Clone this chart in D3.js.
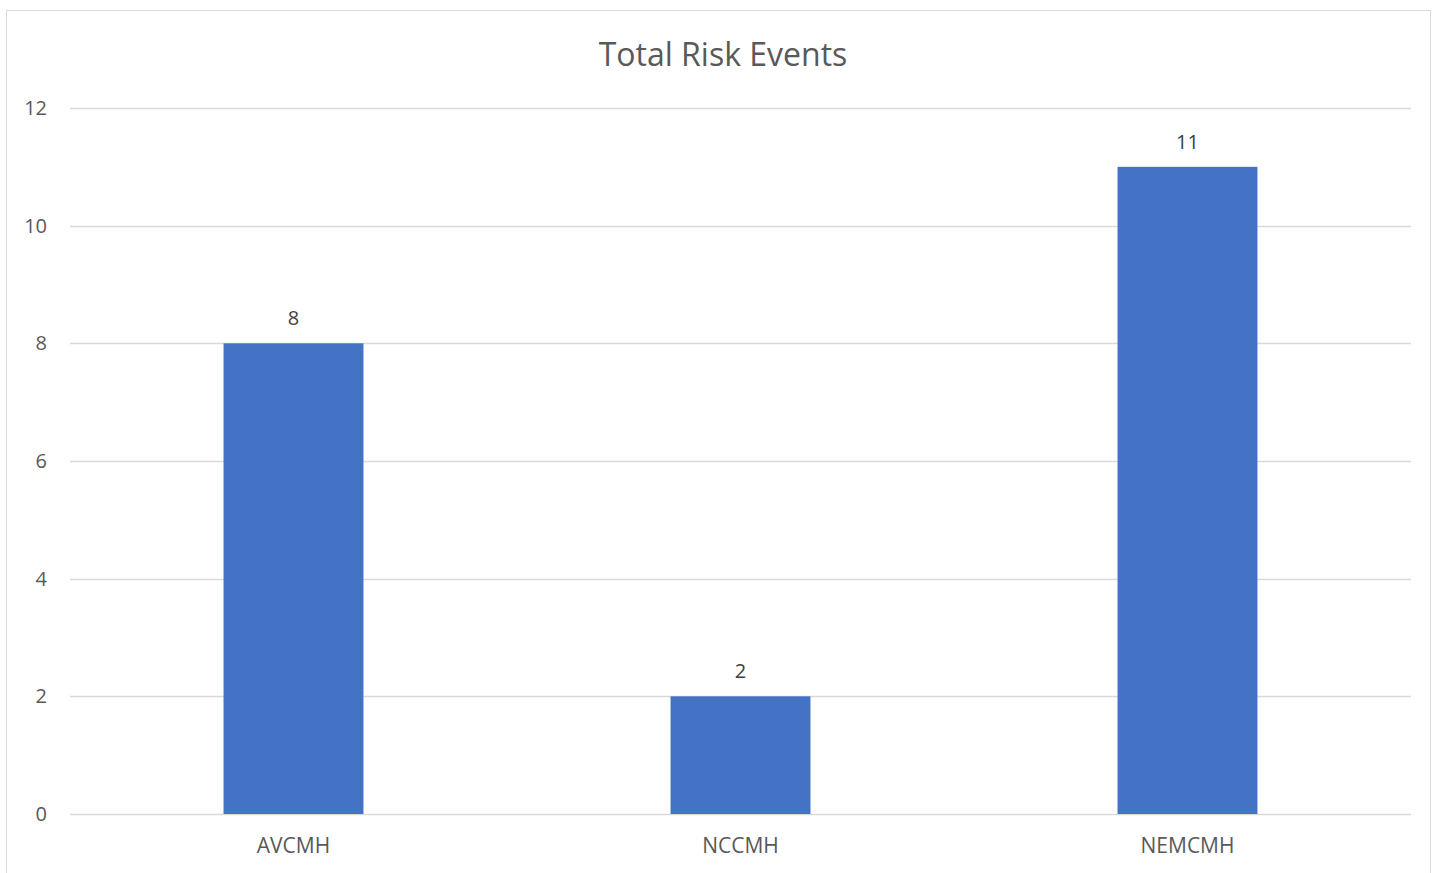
<!DOCTYPE html>
<html>
<head>
<meta charset="utf-8">
<script src="https://cdn.jsdelivr.net/npm/d3@7"></script>
<style>
  body { margin: 0; background: #fff; }
  svg { display: block; font-family: "Open Sans", "Noto Sans", sans-serif; }
</style>
</head>
<body>
<div id="chart"></div>
<script>
let categories = ["AVCMH", "NCCMH", "NEMCMH"];
let values = [8, 2, 11];
let yTicks = [0, 2, 4, 6, 8, 10, 12];
let title = "Total Risk Events";

let w = 1433;
let h = 873;
let plotLeft = 70, plotRight = 1411, plotTop = 108, plotBottom = 814;

let svg = d3.select("#chart").append("svg")
    .attr("width", w)
    .attr("height", h);

// chart frame
svg.append("rect")
    .attr("x", 6.5).attr("y", 10.5)
    .attr("width", 1424).attr("height", 880)
    .attr("fill", "none")
    .attr("stroke", "#d9d9d9")
    .attr("stroke-width", 1);

let x = d3.scaleBand().domain(categories).range([plotLeft, plotRight]).paddingInner(0.687).paddingOuter(0.3435);
let y = d3.scaleLinear().domain([0, 12]).range([plotBottom, plotTop]);

// gridlines
svg.append("g").selectAll("line")
    .data(yTicks)
    .join("line")
    .attr("x1", plotLeft).attr("x2", plotRight)
    .attr("y1", d => Math.round(y(d)) + 0.5)
    .attr("y2", d => Math.round(y(d)) + 0.5)
    .attr("stroke", "#d9d9d9")
    .attr("stroke-width", 1.5);

// y labels
svg.append("g").selectAll("text")
    .data(yTicks)
    .join("text")
    .attr("x", 47)
    .attr("y", d => y(d))
    .attr("dy", "0.35em")
    .attr("text-anchor", "end")
    .attr("font-size", "20px")
    .attr("fill", "#595959")
    .text(d => d);

// bars
svg.append("g").selectAll("rect")
    .data(values)
    .join("rect")
    .attr("x", (d, i) => x(categories[i]))
    .attr("y", d => y(d))
    .attr("width", x.bandwidth())
    .attr("height", d => y(0) - y(d))
    .attr("fill", "#4472c4");

// value labels
svg.append("g").selectAll("text")
    .data(values)
    .join("text")
    .attr("x", (d, i) => x(categories[i]) + x.bandwidth() / 2)
    .attr("y", d => y(d) - 18)
    .attr("text-anchor", "middle")
    .attr("font-size", "20px")
    .attr("fill", "#404040")
    .text(d => d);

// x labels
svg.append("g").selectAll("text")
    .data(categories)
    .join("text")
    .attr("x", d => x(d) + x.bandwidth() / 2)
    .attr("y", 853)
    .attr("text-anchor", "middle")
    .attr("font-size", "21px")
    .attr("fill", "#595959")
    .text(d => d);

// title
svg.append("text")
    .attr("x", 723)
    .attr("y", 66)
    .attr("text-anchor", "middle")
    .attr("font-size", "32px")
    .attr("fill", "#595959")
    .text(title);
</script>
</body>
</html>
